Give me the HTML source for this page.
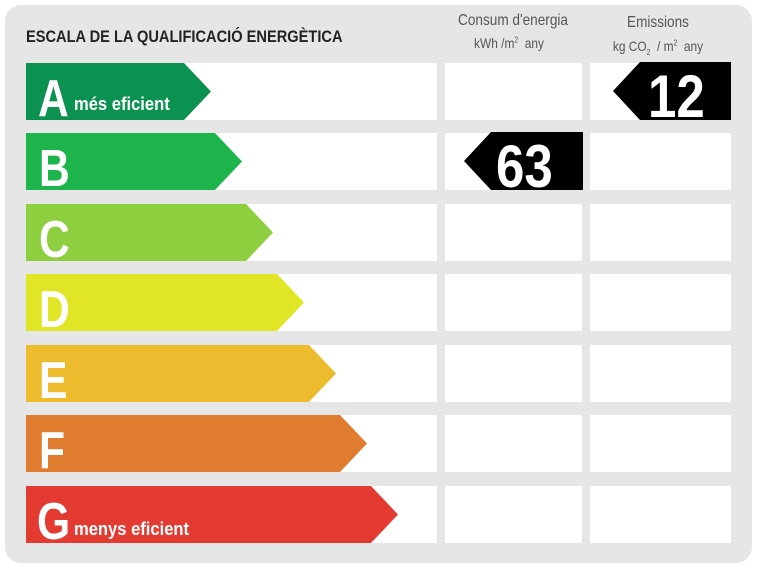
<!DOCTYPE html>
<html><head><meta charset="utf-8"><style>
body{margin:0;width:759px;height:568px;background:#fff;position:relative;overflow:hidden;font-family:"Liberation Sans",sans-serif}
.card{position:absolute;left:5px;top:5px;width:747px;height:558px;background:#e7e6e7;border-radius:16px}
.a{position:absolute}
.t{position:absolute;color:#fff;font-weight:bold;transform-origin:0 0;white-space:nowrap}
.h{position:absolute;color:#555;text-align:center;transform-origin:50% 0;white-space:nowrap}
</style></head><body>
<div class="card"></div>
<div class="t" style="left:26px;top:27px;color:#222;font-size:17px;transform:scaleX(0.86)">ESCALA DE LA QUALIFICACIÓ ENERGÈTICA</div>
<div class="h" style="left:433px;top:12px;width:160px;font-size:16px;transform:scaleX(0.85)">Consum d'energia</div>
<div class="h" style="left:429px;top:35px;width:160px;font-size:14px;transform:scaleX(0.85)">kWh /m<sup style="font-size:8px">2</sup>&nbsp; any</div>
<div class="h" style="left:578px;top:14px;width:160px;font-size:16px;transform:scaleX(0.85)">Emissions</div>
<div class="h" style="left:578px;top:38px;width:160px;font-size:14px;transform:scaleX(0.85)">kg CO<sub style="font-size:8px">2</sub>&nbsp; / m<sup style="font-size:8px">2</sup>&nbsp; any</div>
<svg class="a" style="left:0;top:0" width="759" height="568">
<g fill="#fff">
<rect x="26" y="63" width="411" height="57"/><rect x="445" y="63" width="137" height="57"/><rect x="590" y="63" width="141" height="57"/>
<rect x="26" y="133" width="411" height="57"/><rect x="445" y="133" width="137" height="57"/><rect x="590" y="133" width="141" height="57"/>
<rect x="26" y="204" width="411" height="57"/><rect x="445" y="204" width="137" height="57"/><rect x="590" y="204" width="141" height="57"/>
<rect x="26" y="274" width="411" height="57"/><rect x="445" y="274" width="137" height="57"/><rect x="590" y="274" width="141" height="57"/>
<rect x="26" y="345" width="411" height="57"/><rect x="445" y="345" width="137" height="57"/><rect x="590" y="345" width="141" height="57"/>
<rect x="26" y="415" width="411" height="57"/><rect x="445" y="415" width="137" height="57"/><rect x="590" y="415" width="141" height="57"/>
<rect x="26" y="486" width="411" height="57"/><rect x="445" y="486" width="137" height="57"/><rect x="590" y="486" width="141" height="57"/>
</g>
<polygon fill="#0b9150" points="26,63 184,63 211,91.5 184,120 26,120"/>
<polygon fill="#1db44c" points="26,133 215,133 242,161.5 215,190 26,190"/>
<polygon fill="#8ecf40" points="26,204 246,204 273,232.5 246,261 26,261"/>
<polygon fill="#e0e626" points="26,274 277,274 304,302.5 277,331 26,331"/>
<polygon fill="#ecbc2e" points="26,345 309,345 336,373.5 309,402 26,402"/>
<polygon fill="#e07c30" points="26,415 340,415 367,443.5 340,472 26,472"/>
<polygon fill="#e33a31" points="26,486 371,486 398,514.5 371,543 26,543"/>
<polygon fill="#000" points="731,62 640,62 613,91 640,120 731,120"/>
<polygon fill="#000" points="583,132 491,132 464,161 491,190 583,190"/>
</svg>
<div class="t" style="left:38px;top:69px;font-size:52px;transform:scaleX(0.82)">A</div>
<div class="t" style="left:74px;top:94px;font-size:18px;transform:scaleX(0.92)">més eficient</div>
<div class="t" style="left:39px;top:139px;font-size:52px;transform:scaleX(0.82)">B</div>
<div class="t" style="left:39px;top:210px;font-size:52px;transform:scaleX(0.82)">C</div>
<div class="t" style="left:39px;top:280px;font-size:52px;transform:scaleX(0.82)">D</div>
<div class="t" style="left:39px;top:351px;font-size:52px;transform:scaleX(0.82)">E</div>
<div class="t" style="left:39px;top:421px;font-size:52px;transform:scaleX(0.82)">F</div>
<div class="t" style="left:37px;top:492px;font-size:52px;transform:scaleX(0.82)">G</div>
<div class="t" style="left:74px;top:519px;font-size:18px;transform:scaleX(0.92)">menys eficient</div>
<div class="t" style="left:648px;top:62px;font-size:60px;transform:scaleX(0.85)">12</div>
<div class="t" style="left:496px;top:132px;font-size:60px;transform:scaleX(0.85)">63</div>
</body></html>
